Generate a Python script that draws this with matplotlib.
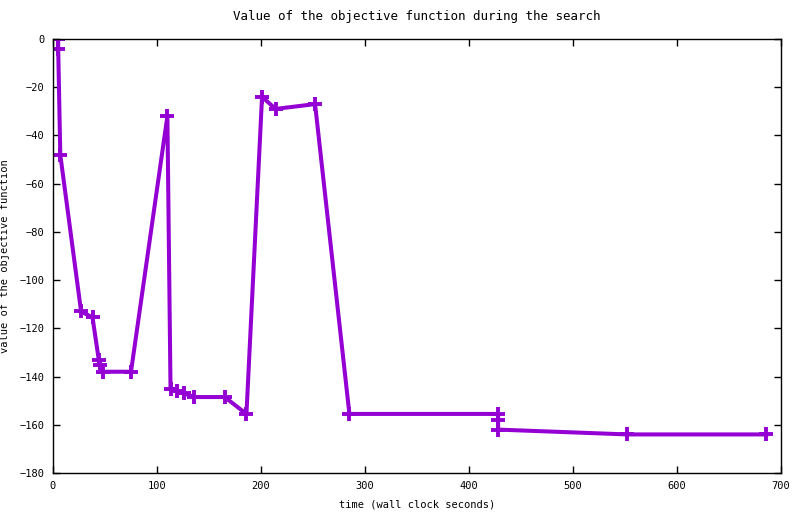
import matplotlib
matplotlib.use('Agg')
import matplotlib.pyplot as plt

# search trace: wall clock time vs objective value
time_s = [5, 5, 7, 27, 38, 44, 45, 48, 75, 110, 113, 119, 126, 136, 165, 186,
          201, 214, 252, 285, 428, 428, 428, 552, 686]
objective = [0, -4, -48, -113, -115.5, -133, -135, -138, -138, -32, -145, -146,
             -147, -148.5, -148.5, -155.5, -24, -29, -27, -155.5, -155.5, -158,
             -162, -164, -164]

xticks = [0, 100, 200, 300, 400, 500, 600, 700]
yticks = [0, -20, -40, -60, -80, -100, -120, -140, -160, -180]

plt.rcParams['font.family'] = 'DejaVu Sans Mono'
plt.rcParams['font.size'] = 7.5

fig = plt.figure(figsize=(8, 5.14), dpi=100)
ax = fig.add_axes([53 / 800, 41 / 514, 728 / 800, 434 / 514])

ax.plot(time_s, objective, color='#9400d3', linewidth=2.9,
        marker='+', markersize=10, markeredgewidth=2.8)

ax.set_xlim(0, 700)
ax.set_ylim(-180, 0)
ax.set_xticks(xticks)
ax.set_yticks(yticks)
ax.tick_params(direction='in', top=True, right=True, length=5, width=1, pad=6)
for s in ax.spines.values():
    s.set_linewidth(1)

ax.set_title('Value of the objective function during the search', pad=14)
ax.set_xlabel('time (wall clock seconds)', labelpad=6)
ax.set_ylabel('value of the objective function')
ax.yaxis.set_label_coords(-0.059, 0.5)

fig.savefig('out.png', dpi=100)
